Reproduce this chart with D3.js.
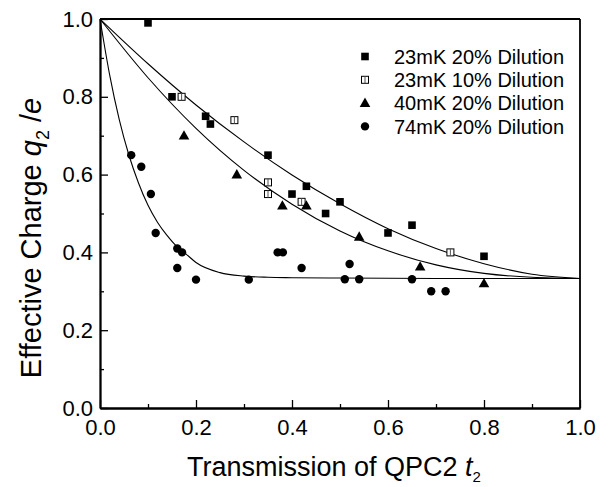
<!DOCTYPE html>
<html><head><meta charset="utf-8">
<script src="https://cdn.jsdelivr.net/npm/d3@7"></script>
<style>body{margin:0;background:#fff}svg{display:block}text{font-family:"Liberation Sans",Arial,sans-serif}</style>
</head><body>
<svg id="c" width="613" height="487"></svg>
<script>
// ---- data ----
const xTicks = [0.0, 0.2, 0.4, 0.6, 0.8, 1.0];
const yTicks = [0.0, 0.2, 0.4, 0.6, 0.8, 1.0];
const minorTicks = [0.1, 0.3, 0.5, 0.7, 0.9];
const seriesNames = ["23mK 20% Dilution", "23mK 10% Dilution", "40mK 20% Dilution", "74mK 20% Dilution"];

const sq20_23 = [[0.10,0.99],[0.15,0.80],[0.22,0.75],[0.23,0.73],[0.35,0.65],[0.40,0.55],[0.43,0.57],[0.47,0.50],[0.50,0.53],[0.60,0.45],[0.65,0.47],[0.80,0.39]];
const sq10_23 = [[0.17,0.80],[0.28,0.74],[0.35,0.58],[0.35,0.55],[0.42,0.53],[0.73,0.40]];
const tri40 = [[0.175,0.70],[0.285,0.60],[0.38,0.52],[0.43,0.52],[0.54,0.44],[0.667,0.363],[0.80,0.32]];
const circ74 = [[0.065,0.65],[0.086,0.62],[0.106,0.55],[0.116,0.45],[0.161,0.41],[0.171,0.40],[0.161,0.36],[0.20,0.33],[0.31,0.33],[0.370,0.40],[0.381,0.40],[0.42,0.36],[0.52,0.37],[0.51,0.331],[0.54,0.331],[0.65,0.331],[0.69,0.30],[0.72,0.30]];

// fit curves, points
const curveUpper = [[0,1],[0.1,0.885],[0.2,0.779],[0.3,0.684],[0.4,0.599],[0.5,0.525],[0.6,0.461],[0.7,0.410],[0.8,0.371],[0.9,0.344],[1.0,0.333]];
const curveMiddle = [[0,1],[0.1,0.849],[0.2,0.719],[0.3,0.611],[0.4,0.524],[0.5,0.455],[0.6,0.404],[0.7,0.368],[0.8,0.346],[0.9,0.336],[1.0,0.333]];
const curveLower = [[0,1],[0.02,0.857],[0.04,0.742],[0.06,0.651],[0.08,0.579],[0.10,0.521],[0.12,0.477],[0.14,0.443],[0.16,0.415],[0.18,0.395],[0.20,0.374],[0.25,0.348],[0.30,0.339],[0.35,0.336],[0.40,0.335],[0.5,0.334],[0.7,0.333],[1.0,0.333]];

// ---- drawing ----
const svg = d3.select("#c");
const x = d3.scaleLinear().domain([0,1]).range([100,580]);
const y = d3.scaleLinear().domain([0,1]).range([408,19]);

// frame (top/right)
svg.append("line").attr("x1",x(0)).attr("x2",x(1)).attr("y1",y(1)).attr("y2",y(1)).attr("stroke","#000").attr("stroke-width",1.8);
svg.append("line").attr("x1",x(1)).attr("x2",x(1)).attr("y1",y(0)).attr("y2",y(1)).attr("stroke","#000").attr("stroke-width",1.8);

const fmt = d3.format(".1f");
const gx = svg.append("g").attr("transform",`translate(0,${y(0)})`)
  .call(d3.axisBottom(x).tickValues(xTicks).tickFormat(fmt).tickSizeInner(-8).tickSizeOuter(0).tickPadding(11));
const gxm = svg.append("g").attr("transform",`translate(0,${y(0)})`)
  .call(d3.axisBottom(x).tickValues(minorTicks).tickFormat("").tickSizeInner(-4).tickSizeOuter(0));
const gy = svg.append("g").attr("transform",`translate(${x(0)},0)`)
  .call(d3.axisLeft(y).tickValues(yTicks).tickFormat(fmt).tickSizeInner(-8).tickSizeOuter(0).tickPadding(7));
const gym = svg.append("g").attr("transform",`translate(${x(0)},0)`)
  .call(d3.axisLeft(y).tickValues(minorTicks).tickFormat("").tickSizeInner(-4).tickSizeOuter(0));
[gx,gxm,gy,gym].forEach(g=>{
  g.select(".domain").attr("stroke","#000").attr("stroke-width",1.8);
  g.selectAll(".tick line").attr("stroke","#000").attr("stroke-width",1.3);
  g.selectAll(".tick text").attr("fill","#000").style("font-size","22px").style("font-family","Liberation Sans, Arial, sans-serif");
});
gx.selectAll(".tick text").attr("dy","0.71em");

// curves
const line = d3.line().x(d=>x(d[0])).y(d=>y(d[1])).curve(d3.curveMonotoneX);
[curveUpper, curveMiddle, curveLower].forEach(c=>{
  svg.append("path").attr("d",line(c)).attr("fill","none").attr("stroke","#000").attr("stroke-width",1.1);
});

// markers
function drawMarker(g, type, cx, cy){
  if(type===0){
    g.append("rect").attr("x",cx-3.8).attr("y",cy-3.8).attr("width",7.6).attr("height",7.6).attr("fill","#000");
  } else if(type===1){
    g.append("rect").attr("x",cx-3.5).attr("y",cy-3.5).attr("width",7).attr("height",7).attr("fill","#fff").attr("stroke","#000").attr("stroke-width",1);
    g.append("line").attr("x1",cx).attr("x2",cx).attr("y1",cy-3.5).attr("y2",cy+3.5).attr("stroke","#555").attr("stroke-width",1);
  } else if(type===2){
    g.append("path").attr("d",`M${cx},${cy-5.5}L${cx+5.3},${cy+3.8}L${cx-5.3},${cy+3.8}Z`).attr("fill","#000");
  } else {
    g.append("circle").attr("cx",cx).attr("cy",cy).attr("r",4.2).attr("fill","#000");
  }
}
const mg = svg.append("g");
[sq20_23, sq10_23, tri40, circ74].forEach((s,i)=>{
  s.forEach(d=>drawMarker(mg,i,x(d[0]),y(d[1])));
});

// legend
const lg = svg.append("g");
seriesNames.forEach((n,i)=>{
  const ly = 56.5 + i*23.3;
  drawMarker(lg,i,365,ly);
  lg.append("text").attr("x",394).attr("y",ly).attr("dy","0.36em").style("font-size","20px").attr("fill","#000").text(n);
});

// axis titles
const xt = svg.append("text").attr("x",187).attr("y",476).style("font-size","27px").attr("fill","#000");
xt.append("tspan").text("Transmission of QPC2 ");
xt.append("tspan").attr("font-style","italic").text(" t");
xt.append("tspan").attr("dy",6).style("font-size","15px").text("2");

const yt = svg.append("text").attr("transform","translate(41,238) rotate(-90)").attr("text-anchor","middle").style("font-size","29px").attr("fill","#000");
yt.append("tspan").text("Effective Charge ");
yt.append("tspan").attr("font-style","italic").text("q");
yt.append("tspan").attr("dy",8).style("font-size","18px").text("2");
yt.append("tspan").attr("dy",-8).text(" /");
yt.append("tspan").attr("font-style","italic").text("e");
</script>
</body></html>
